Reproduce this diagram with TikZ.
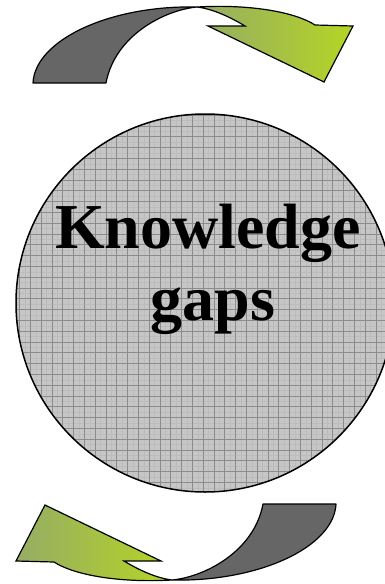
\documentclass[tikz,border=0pt]{standalone}
\usepackage{fontspec}
\setmainfont{Liberation Serif}
\definecolor{bandgrey}{RGB}{102,102,102}
\definecolor{greenL}{RGB}{150,172,102}
\definecolor{greenR}{RGB}{180,213,36}
\definecolor{diskfill}{RGB}{198,198,198}
\definecolor{gridmajor}{RGB}{140,140,140}
\definecolor{gridminor}{RGB}{188,188,188}
\tikzset{
  greyband/.style={fill=bandgrey, draw=black, line width=1.2pt, line join=round},
  greenband/.style={left color=greenL, right color=greenR, draw=black, line width=1.2pt, line join=miter},
  disk/.style={fill=diskfill},
  diskedge/.style={draw=black, line width=1.5pt},
  gridline/.style={draw=gridmajor, line width=0.7pt},
  subline/.style={draw=gridminor, line width=0.4pt},
  label/.style={font=\bfseries\fontsize{64}{64}\selectfont, inner sep=0pt, anchor=base},
  turnarrow/.pic={
    \path[greyband] (33,83) .. controls (35,40) and (110,5) .. (197,7)
       .. controls (165,10) and (115,35) .. (106,83) -- cycle;
    \shadedraw[greenband] (197,7) .. controls (250,4) and (295,12) .. (315,25)
       -- (353,26) -- (324,82) -- (208,26) -- (245,26)
       .. controls (230,17) and (213,9) .. (197,7) -- cycle;
  }
}
\begin{document}
\begin{tikzpicture}[x=1pt,y=-1pt]
\useasboundingbox (0,0) rectangle (385,584);
\begin{scope}
  \clip (0,0) rectangle (385,584);
  \fill[disk] (205,303) circle[radius=189];
  \begin{scope}
    \clip (205,303) circle[radius=189];
    \foreach \i in {0,...,36} {
      \draw[subline] ({14.2+10.8*\i},100) -- ({14.2+10.8*\i},500);
      \draw[subline] (0,{109.7+10.8*\i}) -- (400,{109.7+10.8*\i});
    }
    \foreach \i in {0,...,36} {
      \draw[gridline] ({8.8+10.8*\i},100) -- ({8.8+10.8*\i},500);
      \draw[gridline] (0,{104.3+10.8*\i}) -- (400,{104.3+10.8*\i});
    }
  \end{scope}
  \draw[diskedge] (205,303) circle[radius=189];
\end{scope}
\node[label] (k1) at (208,248) {Knowledge};
\node[label] (k2) at (213,320) {gaps};
\pic (toparrow) at (0,0) {turnarrow};
\pic[rotate=180] (botarrow) at (369,587) {turnarrow};
\end{tikzpicture}
\end{document}
